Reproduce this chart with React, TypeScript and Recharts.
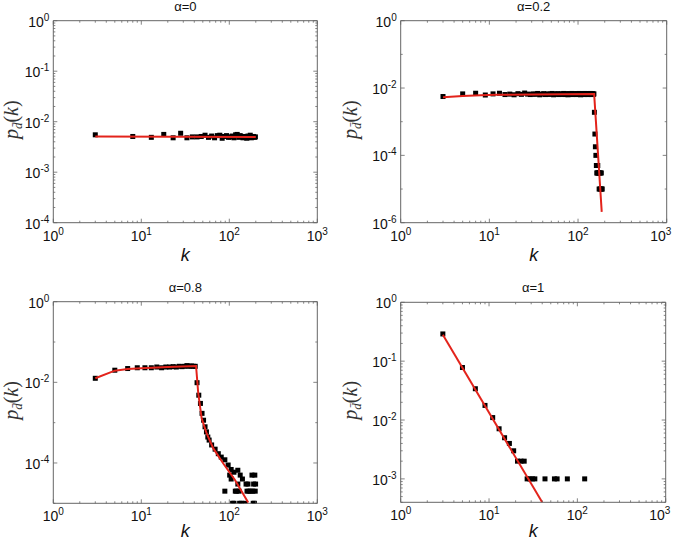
import React from 'react';
import { ScatterChart, Scatter, XAxis, YAxis, ReferenceArea } from 'recharts';

const titles = ['α=0', 'α=0.2', 'α=0.8', 'α=1'];

// alpha = 0
const kA = [3, 8, 13, 18, 23, 28, 33, 38, 43, 48, 53, 58, 63, 68, 73, 78, 83, 88, 93, 98,
  103, 108, 113, 118, 123, 128, 133, 138, 143, 148, 153, 158, 163, 168, 173, 178, 183, 188, 193, 198];
const pA = [5.5e-3, 5.1e-3, 4.9e-3, 5.6e-3, 4.8e-3, 5.9e-3, 4.8e-3, 5.0e-3, 5.0e-3, 5.1e-3,
  5.4e-3, 4.9e-3, 5.2e-3, 4.8e-3, 5.3e-3, 5.4e-3, 4.7e-3, 5.1e-3, 5.3e-3, 4.9e-3,
  5.0e-3, 5.2e-3, 4.8e-3, 5.5e-3, 5.6e-3, 4.9e-3, 5.3e-3, 5.1e-3, 4.8e-3, 5.1e-3,
  5.0e-3, 4.7e-3, 5.2e-3, 4.9e-3, 5.4e-3, 4.8e-3, 5.0e-3, 5.1e-3, 4.9e-3, 5.0e-3];
const fitKA = [3, 200];
const fitPA = [5.1e-3, 5.0e-3];

// alpha = 0.2
const kB = [3, 5, 7, 9, 11, 13, 15, 17, 19, 21, 23, 25, 27, 29, 31,
  33, 35, 37, 39, 41, 43, 45, 47, 49, 51, 53, 55, 57, 59, 61,
  63, 65, 67, 69, 71, 73, 75, 77, 79, 81, 83, 85, 87, 89, 91,
  93, 95, 97, 99, 101, 103, 105, 107, 109, 111, 113, 115, 117, 119, 121,
  123, 125, 127, 129, 131, 133, 135, 137, 139, 141, 143, 145, 147, 149, 151,
  153, 155, 157, 159, 161, 163, 165, 167, 169, 171, 173, 175, 177, 179, 181, 183, 185, 187];
const pB = [5.6e-3, 6.7e-3, 7.0e-3, 6.2e-3, 6.7e-3, 7.0e-3, 6.4e-3, 6.6e-3, 6.3e-3, 6.8e-3, 6.5e-3, 7.1e-3, 6.6e-3, 6.4e-3, 6.7e-3,
  6.5e-3, 6.9e-3, 6.3e-3, 6.6e-3, 6.8e-3, 6.4e-3, 6.7e-3, 6.5e-3, 6.6e-3, 6.9e-3, 6.3e-3, 6.7e-3, 6.5e-3, 6.8e-3, 6.4e-3,
  6.6e-3, 6.7e-3, 6.5e-3, 6.9e-3, 6.4e-3, 6.6e-3, 6.8e-3, 6.3e-3, 6.7e-3, 6.5e-3, 6.6e-3, 6.9e-3, 6.4e-3, 6.7e-3, 6.5e-3,
  6.8e-3, 6.6e-3, 6.4e-3, 6.7e-3, 6.5e-3, 6.9e-3, 6.6e-3, 6.3e-3, 6.7e-3, 6.8e-3, 6.5e-3, 6.6e-3, 6.4e-3, 6.9e-3, 6.7e-3,
  6.5e-3, 6.6e-3, 6.8e-3, 6.4e-3, 6.7e-3, 6.5e-3, 6.6e-3, 6.9e-3, 6.5e-3, 6.7e-3, 6.4e-3, 6.8e-3, 6.6e-3, 6.5e-3, 6.7e-3,
  1.9e-3, 4.3e-4, 1.8e-4, 1.0e-4, 5e-5, 3e-5, 3e-5, 5e-5, 3e-5, 3e-5, 1e-5, 3e-5, 1e-5, 3e-5, 1e-5, 3e-5, 1e-5, 1e-5];
const fitKB = [3, 5, 8, 12, 30, 152, 185];
const fitPB = [5.3e-3, 5.8e-3, 6.1e-3, 6.3e-3, 6.4e-3, 6.6e-3, 2.1e-6];

// alpha = 0.8
const kC = [3, 5, 7, 9, 11, 13, 15, 17, 19, 21, 23, 25, 27, 29, 31, 33, 35, 37, 39, 41,
  43, 45, 47, 49, 51, 53, 55, 57, 59, 63, 69, 75, 81, 89, 97, 105, 113, 125,
  101, 133, 181, 195, 105, 141, 125, 155, 163, 189, 199,
  89, 117, 121, 129, 159, 167, 175, 185, 197, 109, 113, 131, 137, 151, 187, 193];
const pC = [1.26e-2, 2.0e-2, 2.2e-2, 2.3e-2, 2.3e-2, 2.3e-2, 2.4e-2, 2.3e-2, 2.4e-2, 2.4e-2,
  2.45e-2, 2.4e-2, 2.5e-2, 2.45e-2, 2.5e-2, 2.6e-2, 2.5e-2, 2.55e-2, 2.5e-2, 2.5e-2,
  9.8e-3, 4.8e-3, 3.0e-3, 1.7e-3, 1.15e-3, 7.9e-4, 5.9e-4, 4.4e-4, 3.7e-4, 2.8e-4, 2.2e-4, 1.7e-4, 1.4e-4, 1.2e-4, 8.9e-5, 6.9e-5, 5.9e-5, 6.6e-5,
  5e-5, 5e-5, 5e-5, 5e-5, 4e-5, 4e-5, 3e-5, 3e-5, 3e-5, 3e-5, 3e-5,
  2e-5, 2e-5, 2e-5, 2e-5, 2e-5, 2e-5, 2e-5, 2e-5, 2e-5, 1e-5, 1e-5, 1e-5, 1e-5, 1e-5, 1e-5, 1e-5];
const fitKC = [3, 5, 7, 10, 20, 41.9, 44.4, 48.5, 55.3, 65.8, 85.5, 116, 164];
const fitPC = [1.26e-2, 1.95e-2, 2.15e-2, 2.25e-2, 2.4e-2, 2.54e-2, 5.3e-3, 1.28e-3, 5.4e-4, 2.3e-4, 9.7e-5, 3.8e-5, 1.05e-5];

// alpha = 1
const kD = [3, 5, 7, 9, 11, 13, 15, 17, 19, 21, 23, 25, 27, 29, 31, 33, 43, 55, 59, 77, 121];
const pD = [0.29, 0.078, 0.034, 0.0177, 0.011, 0.0071, 0.005, 0.004, 0.003, 0.002, 0.002, 0.002,
  0.001, 0.001, 0.001, 0.001, 0.001, 0.001, 0.001, 0.001, 0.001];
const fitKD = [3, 40];
const fitPD = [0.28, 4e-4];

const frame = '#666';
const red = '#e3231b';
const sans = '"Liberation Sans", Arial, sans-serif';
const serif = '"Liberation Serif", "Times New Roman", serif';

const isDecade = (v: number) => Math.abs(Math.log10(v) - Math.round(Math.log10(v))) < 1e-6;

function logTicks(lo: number, hi: number, minors: boolean) {
  const out: number[] = [];
  const e0 = Math.floor(Math.log10(lo) + 1e-9);
  const e1 = Math.round(Math.log10(hi));
  for (let e = e0; e <= e1; e++) {
    for (let m = 1; m <= (minors ? 9 : 1); m++) {
      const v = Number((m * Math.pow(10, e)).toPrecision(6));
      if (v >= lo * (1 - 1e-9) && v <= hi * (1 + 1e-9)) out.push(v);
    }
  }
  return out;
}

const zip = (k: number[], p: number[]) => k.map((v, i) => ({ k: v, p: p[i] }));

const panels = [
  { ox: 0, oy: 0, cw: 337, ch: 270, pl: 53.3, pt: 20.7, pw: 264, ph: 202, ylx: 41, kdy: 38, lastShift: 0,
    pts: zip(kA, pA), fit: zip(fitKA, fitPA), yDomain: [1e-4, 1], yMinor: true, yLabels: [0, -1, -2, -3, -4] },
  { ox: 337, oy: 0, cw: 338, ch: 270, pl: 63.7, pt: 20.7, pw: 266, ph: 202, ylx: 50, kdy: 38, lastShift: -6,
    pts: zip(kB, pB), fit: zip(fitKB, fitPB), yDomain: [1e-6, 1], yMinor: false, yLabels: [0, -2, -4, -6] },
  { ox: 0, oy: 270, cw: 337, ch: 273, pl: 53.3, pt: 31.7, pw: 264, ph: 201.6, ylx: 41, kdy: 34, lastShift: 0,
    pts: zip(kC, pC), fit: zip(fitKC, fitPC), yDomain: [1e-5, 1], yMinor: false, yLabels: [0, -2, -4] },
  { ox: 337, oy: 270, cw: 338, ch: 273, pl: 63.7, pt: 32.3, pw: 265, ph: 200, ylx: 50, kdy: 35, lastShift: -6,
    pts: zip(kD, pD), fit: zip(fitKD, fitPD), yDomain: [4e-4, 1], yMinor: true, yLabels: [0, -1, -2, -3] },
];

const YW = 40;
const XH = 30;
const xTicks = logTicks(1, 1000, true);

function Label10({ x, y, exp, anchor }: { x: number; y: number; exp: number; anchor: 'middle' | 'end' }) {
  return (
    <text x={x} y={y} textAnchor={anchor} fontFamily={sans} fontSize={14} fill="#111">
      10<tspan dy={-6} fontSize={10}>{String(exp)}</tspan>
    </text>
  );
}

function Square(props: any) {
  const { cx, cy } = props;
  if (cx == null || cy == null) return <g />;
  return <rect x={cx - 2.5} y={cy - 2.5} width={5} height={5} fill="#000" />;
}

function Panel({ cfg }: { cfg: (typeof panels)[number] }) {
  const top = cfg.pt;
  const bottom = cfg.pt + cfg.ph;
  const left = cfg.pl;
  const right = cfg.pl + cfg.pw;
  const yTicks = logTicks(cfg.yDomain[0], cfg.yDomain[1], cfg.yMinor);

  const xTick = (p: any) => {
    const v = p.payload.value;
    const major = isDecade(v);
    const len = major ? 4 : 2;
    const shift = v === 1000 ? cfg.lastShift : 0;
    return (
      <g>
        <line x1={p.x} x2={p.x} y1={bottom} y2={bottom - len} stroke={frame} strokeWidth={0.8} />
        <line x1={p.x} x2={p.x} y1={top} y2={top + len} stroke={frame} strokeWidth={0.8} />
        {major && <Label10 x={p.x + shift} y={bottom + 18} exp={Math.round(Math.log10(v))} anchor="middle" />}
      </g>
    );
  };

  const yTick = (p: any) => {
    const v = p.payload.value;
    const e = Math.round(Math.log10(v));
    const major = isDecade(v) && cfg.yLabels.includes(e);
    const len = major ? 4 : 2;
    return (
      <g>
        <line x1={left} x2={left + len} y1={p.y} y2={p.y} stroke={frame} strokeWidth={0.8} />
        <line x1={right} x2={right - len} y1={p.y} y2={p.y} stroke={frame} strokeWidth={0.8} />
        {major && <Label10 x={left - 4} y={p.y + 6} exp={e} anchor="end" />}
      </g>
    );
  };

  return (
    <div style={{ position: 'absolute', left: cfg.ox, top: cfg.oy }}>
      <ScatterChart
        width={cfg.cw}
        height={cfg.ch}
        margin={{ top: cfg.pt, left: cfg.pl - YW, right: cfg.cw - cfg.pl - cfg.pw, bottom: cfg.ch - cfg.pt - cfg.ph - XH }}
      >
        <XAxis
          type="number"
          dataKey="k"
          scale="log"
          domain={[1, 1000]}
          allowDataOverflow
          ticks={xTicks}
          interval={0}
          height={XH}
          tickSize={0}
          tickMargin={0}
          axisLine={false}
          tickLine={false}
          tick={xTick}
        />
        <YAxis
          type="number"
          dataKey="p"
          scale="log"
          domain={cfg.yDomain}
          allowDataOverflow
          ticks={yTicks}
          interval={0}
          width={YW}
          tickSize={0}
          tickMargin={0}
          axisLine={false}
          tickLine={false}
          tick={yTick}
        />
        <ReferenceArea x1={1} x2={1000} y1={cfg.yDomain[0]} y2={cfg.yDomain[1]} fill="none" stroke={frame} strokeWidth={1} ifOverflow="visible" />
        <Scatter data={cfg.pts} shape={Square} isAnimationActive={false} />
        <Scatter
          data={cfg.fit}
          line={{ stroke: red, strokeWidth: 2 }}
          shape={() => <g />}
          isAnimationActive={false}
        />
      </ScatterChart>
    </div>
  );
}

export default function App() {
  return (
    <div style={{ position: 'absolute', left: 0, top: 0, width: 675, height: 543, background: '#fff', overflow: 'hidden' }}>
      {panels.map((cfg, i) => (
        <Panel key={i} cfg={cfg} />
      ))}
      <svg width={675} height={543} style={{ position: 'absolute', left: 0, top: 0, pointerEvents: 'none' }}>
        {panels.map((cfg, i) => {
          const cx = cfg.ox + cfg.pl + cfg.pw / 2;
          const cy = cfg.oy + cfg.pt + cfg.ph / 2 - 2;
          const lx = cfg.ox + cfg.pl - cfg.ylx + 6;
          const bottom = cfg.oy + cfg.pt + cfg.ph;
          return (
            <g key={i}>
              <text x={cx} y={cfg.oy + cfg.pt - 10} textAnchor="middle" fontFamily={sans} fontSize={13} fill="#111">
                {titles[i]}
              </text>
              <text x={cx} y={bottom + cfg.kdy} textAnchor="middle" fontFamily={sans} fontStyle="italic" fontSize={18} fill="#111">
                k
              </text>
              <text
                transform={`translate(${lx},${cy}) rotate(-90)`}
                textAnchor="middle"
                fontFamily={serif}
                fontSize={20}
                fill="#333"
              >
                <tspan fontStyle="italic">p</tspan>
                <tspan fontStyle="italic" fontSize={13} dy={4}>{'d\u0304'}</tspan>
                <tspan dy={-4}>(</tspan>
                <tspan fontStyle="italic">k</tspan>
                <tspan>)</tspan>
              </text>
            </g>
          );
        })}
      </svg>
    </div>
  );
}
